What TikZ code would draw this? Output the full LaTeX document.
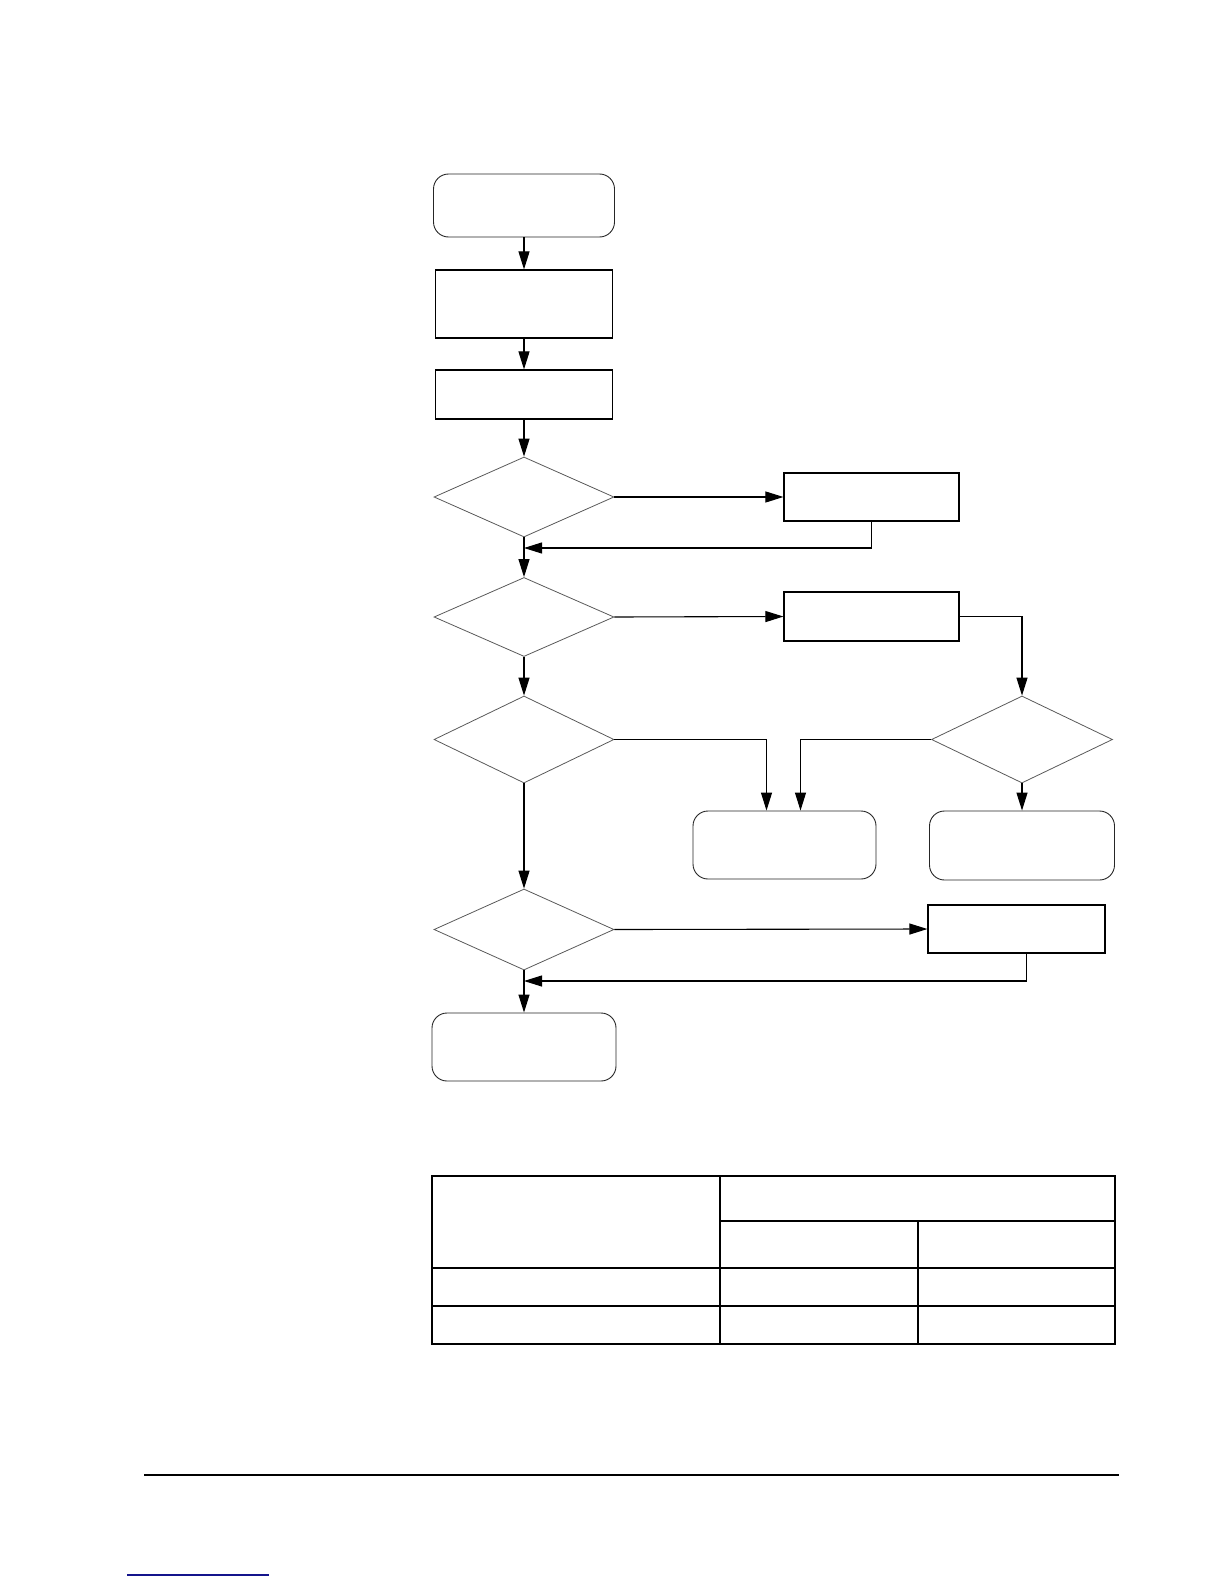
\documentclass[tikz,border=0pt]{standalone}
\usepackage{tikz}
\usetikzlibrary{arrows.meta}
\usetikzlibrary{positioning}
\usetikzlibrary{shapes.geometric}
\tikzset{
  fc_term/.style = {rectangle, rounded corners=15pt, draw=black!85, line width=0.9pt, inner sep=0pt},
  fc_box/.style  = {rectangle, draw=black, line width=1.2pt, inner sep=0pt},
  fc_dec/.style  = {diamond, draw=black!65, line width=0.8pt, inner sep=0pt},
  fc_line/.style = {draw=black, line width=1.1pt, -{Triangle[length=18pt,width=11pt]}},
  tab_line/.style = {draw=black, line width=1.3pt}
}

\begin{document}
\begin{tikzpicture}[x=1pt,y=-1pt]
\useasboundingbox (0,0) rectangle (1224,1584);

% main column
\node [fc_term, minimum width=181pt, minimum height=63pt] (start) at (524,205.5) {};
\node [fc_box, minimum width=177pt, minimum height=68pt] (init) at (524,304) {};
\node [fc_box, minimum width=177pt, minimum height=49pt] (read) at (524,394.5) {};
\node [fc_dec, minimum width=180pt, minimum height=80pt] (qa) at (524,497) {};
\node [fc_dec, minimum width=180pt, minimum height=79pt] (qb) at (524,617) {};
\node [fc_dec, minimum width=180pt, minimum height=87pt] (qc) at (524,739.5) {};
\node [fc_dec, minimum width=180pt, minimum height=81pt] (qd) at (524,929.5) {};
\node [fc_term, minimum width=184pt, minimum height=68pt] (stop) at (524,1047) {};

% right side
\node [fc_box, minimum width=175pt, minimum height=48pt] (acta) at (871.5,497) {};
\node [fc_box, minimum width=175pt, minimum height=49pt] (actb) at (871.5,616.5) {};
\node [fc_dec, minimum width=181pt, minimum height=87pt] (qe) at (1022,739.5) {};
\node [fc_term, minimum width=183pt, minimum height=68pt] (outa) at (784.5,845) {};
\node [fc_term, minimum width=185pt, minimum height=69pt] (outb) at (1022,845.5) {};
\node [fc_box, minimum width=177pt, minimum height=48pt] (actd) at (1016.5,929) {};

\coordinate (joina) at (524,548);
\coordinate (joind) at (524,981);

% connectors
\draw [fc_line] (start) -- (init);
\draw [fc_line] (init) -- (read);
\draw [fc_line] (read) -- (qa);
\draw [fc_line] (qa.east) -- (acta.west);
\draw [fc_line] (acta.south) |- (joina);
\draw [fc_line] (qa.south) -- (qb.north);
\draw [fc_line] (qb.east) -- (actb.west);
\draw [fc_line] (actb.east) -| (qe.north);
\draw [fc_line] (qb.south) -- (qc.north);
\draw [fc_line] (qc.east) -| ([xshift=-18pt]outa.north);
\draw [fc_line] (qe.west) -| ([xshift=16pt]outa.north);
\draw [fc_line] (qe.south) -- (outb.north);
\draw [fc_line] (qc.south) -- (qd.north);
\draw [fc_line] (qd.east) -- (actd.west);
\draw [fc_line] ([xshift=10pt]actd.south) |- (joind);
\draw [fc_line] (qd.south) -- (stop.north);

% table
\draw [tab_line] (432,1176) rectangle (1115,1344);
\draw [tab_line] (720,1221) -- (1115,1221);
\draw [tab_line] (432,1268) -- (1115,1268);
\draw [tab_line] (432,1306) -- (1115,1306);
\draw [tab_line] (720,1176) -- (720,1344);
\draw [tab_line] (918,1221) -- (918,1344);

% footer
\draw [draw=black, line width=1.3pt] (144,1475) -- (1119,1475);
\draw [draw={rgb,255:red,20;green,20;blue,140}, line width=1.2pt] (127,1575) -- (269,1575);
\end{tikzpicture}
\end{document}
